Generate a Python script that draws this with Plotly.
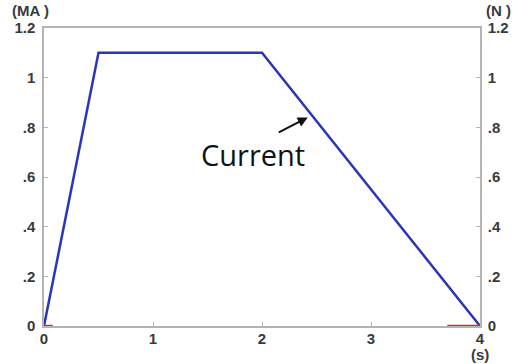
import plotly.graph_objects as go

# Current profile (MA) over time (s)
time_s = [0, 0.5, 2.0, 4.0]
current_ma = [0, 1.1, 1.1, 0]

# Force (N): stays at zero, visible only at both ends of the axis
force_t = [0, 0.08, None, 3.70, 4.0]
force_n = [0, 0, None, 0, 0]

x_ticks = [0, 1, 2, 3, 4]
y_ticks = [0, 0.2, 0.4, 0.6, 0.8, 1.0, 1.2]
y_labels = ["0", ".2", ".4", ".6", ".8", "1", "1.2"]

tick_font = dict(family="Liberation Sans", size=15, color="#3a3a3a", weight="bold")
axis_col = "#b4b4b4"

fig = go.Figure()
# transparent copy anchoring the right-hand (N) axis
fig.add_trace(go.Scatter(x=force_t, y=force_n, mode="lines", yaxis="y2",
                         line=dict(color="rgba(0,0,0,0)", width=0), hoverinfo="skip"))
fig.add_trace(go.Scatter(x=time_s, y=current_ma, mode="lines",
                         line=dict(color="#2a36b8", width=2.5), cliponaxis=False))
fig.add_trace(go.Scatter(x=force_t, y=force_n, mode="lines",
                         line=dict(color="#ff1a1a", width=2.5), connectgaps=False,
                         hoverinfo="skip", cliponaxis=False))

fig.update_layout(
    width=514, height=364,
    margin=dict(l=44, r=34, t=28, b=38),
    plot_bgcolor="white", paper_bgcolor="white",
    showlegend=False,
    xaxis=dict(range=[0, 4], tickvals=x_ticks, ticks="inside", ticklen=4,
               tickcolor=axis_col, showline=True, linecolor=axis_col, linewidth=1.5,
               mirror=True, showgrid=False, zeroline=False, tickfont=tick_font,
               layer="below traces", automargin=False, ticklabelstandoff=-2),
    yaxis=dict(range=[0, 1.2], tickvals=y_ticks, ticktext=y_labels, ticks="inside",
               ticklen=4, tickcolor=axis_col, showline=True, linecolor=axis_col,
               linewidth=1.5, showgrid=False, zeroline=False, tickfont=tick_font,
               layer="below traces", ticklabelstandoff=4, automargin=False),
    yaxis2=dict(range=[0, 1.2], tickvals=y_ticks, ticktext=y_labels, ticks="inside",
                ticklen=4, tickcolor=axis_col, overlaying="y", side="right",
                showline=True, linecolor=axis_col, linewidth=1.5, showgrid=False,
                zeroline=False, tickfont=tick_font, layer="below traces",
                ticklabelstandoff=3, automargin=False),
    annotations=[
        dict(text="(MA )", xref="paper", yref="paper", x=-0.03, y=1.0, yshift=18,
             showarrow=False, xanchor="center", yanchor="middle", font=tick_font),
        dict(text="(N )", xref="paper", yref="paper", x=1.0, y=1.0, xshift=18, yshift=18,
             showarrow=False, xanchor="center", yanchor="middle", font=tick_font),
        dict(text="(s)", xref="paper", yref="paper", x=1.0, y=0, yshift=-28,
             showarrow=False, xanchor="center", yanchor="middle", font=tick_font),
        dict(text="Current", x=1.92, y=0.69, showarrow=False,
             font=dict(family="Open Sans", size=29, color="#111")),
        dict(x=2.42, y=0.84, ax=2.14, ay=0.777, axref="x", ayref="y", text="",
             showarrow=True, arrowhead=2, arrowsize=1, arrowwidth=2, arrowcolor="#111"),
    ],
)

fig.write_html("out.html")
